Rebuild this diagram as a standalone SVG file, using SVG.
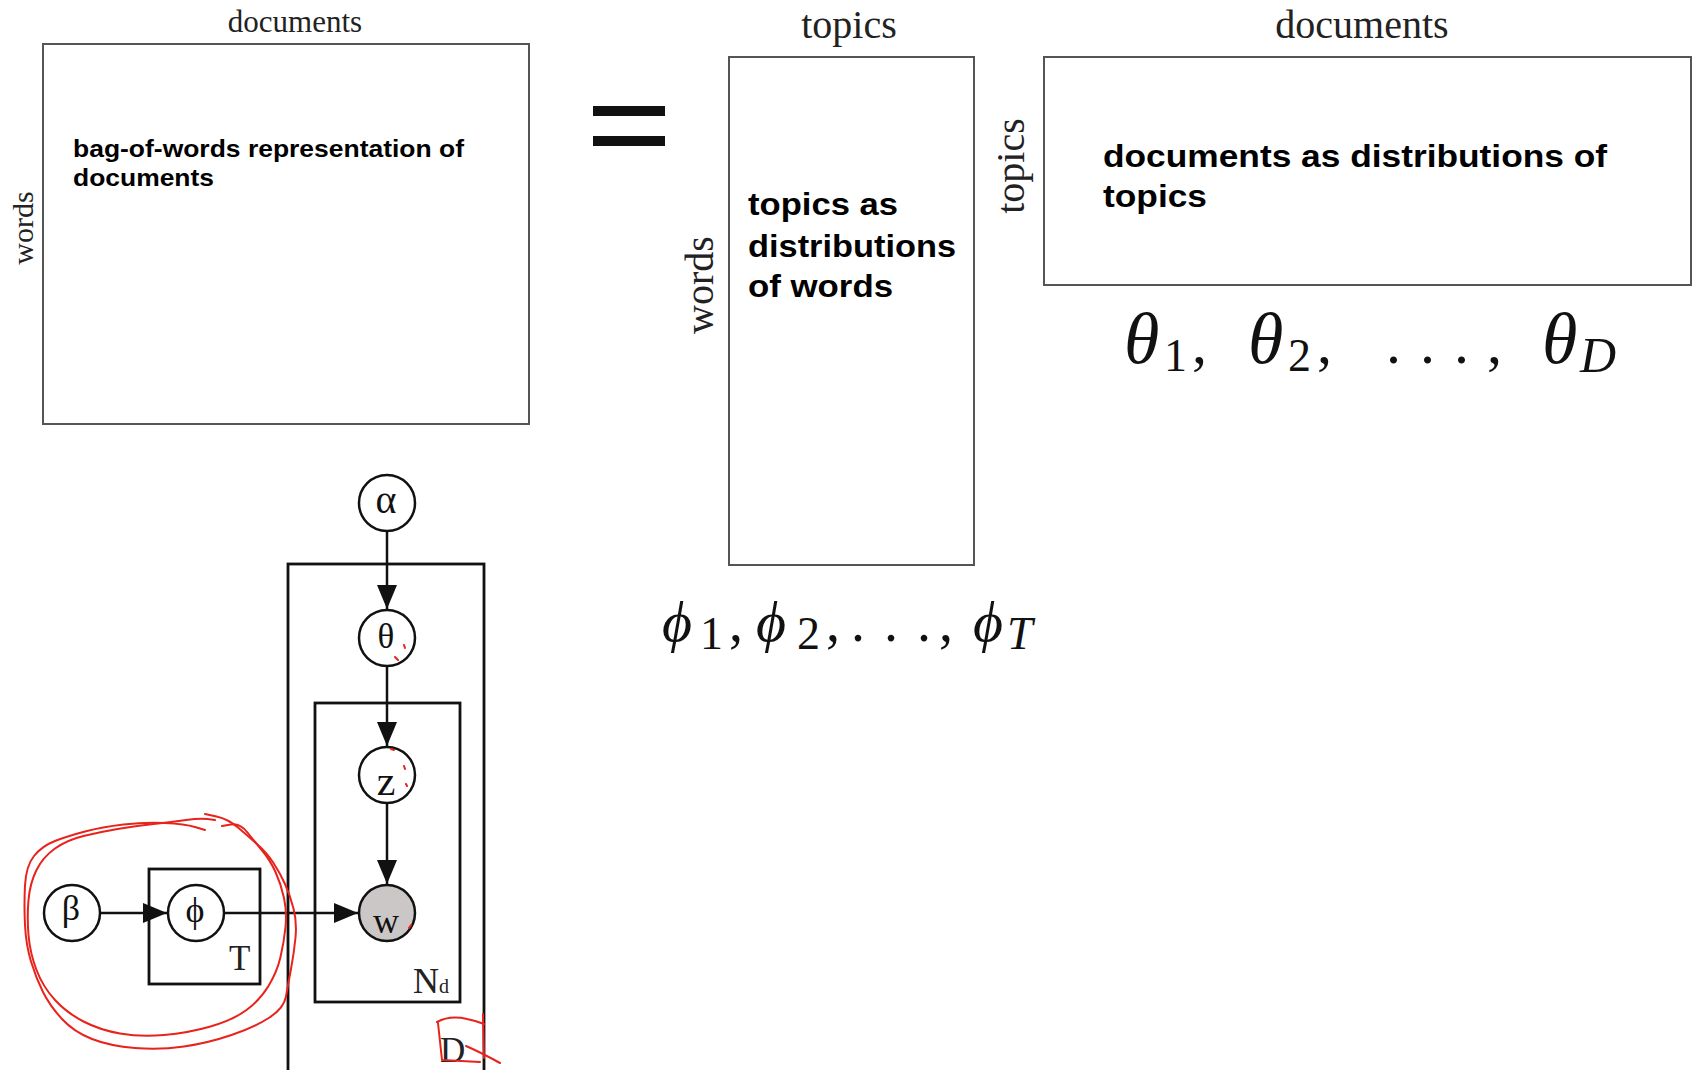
<svg xmlns="http://www.w3.org/2000/svg" width="1693" height="1070" viewBox="0 0 1693 1070">
<style>
.mat{fill:#fff;stroke:#555;stroke-width:2}
.lbl{font-family:"Liberation Serif","Times New Roman",serif;fill:#222}
.bold{font-family:"Liberation Sans",Arial,sans-serif;font-weight:bold;fill:#000}
.math{font-family:"Liberation Serif","DejaVu Serif",serif;fill:#111}
.it{font-style:italic}
.node{fill:#fff;stroke:#111;stroke-width:2.5}
.obs{fill:#cbc7c7;stroke:#111;stroke-width:2.5}
.plate{fill:none;stroke:#111;stroke-width:2.8}
.gl{font-family:"Liberation Serif","Times New Roman",serif;fill:#111;text-anchor:middle}
.edge{stroke:#111;stroke-width:2.5;fill:none;marker-end:url(#arr)}
.red{fill:none;stroke:#e8231c;stroke-width:2;stroke-linecap:round;stroke-linejoin:round}
</style>
<defs>
<marker id="arr" viewBox="0 0 24 20" refX="24" refY="10" markerWidth="24" markerHeight="20" markerUnits="userSpaceOnUse" orient="auto">
<path d="M0,0 L24,10 L0,20 z" fill="#111"/>
</marker>
</defs>
<rect width="1693" height="1070" fill="#fff"/>

<g id="bow-matrix">
<rect class="mat" x="43" y="44" width="486" height="380"/>
<text class="lbl" x="295" y="32" font-size="31" text-anchor="middle">documents</text>
<text class="lbl" font-size="30" text-anchor="middle" transform="translate(33,228) rotate(-90)">words</text>
<text class="bold" font-size="24" x="73" y="157" textLength="391" lengthAdjust="spacingAndGlyphs">bag-of-words representation of</text>
<text class="bold" font-size="24" x="73" y="186" textLength="141" lengthAdjust="spacingAndGlyphs">documents</text>
</g>

<g id="equals">
<rect x="593" y="106" width="72" height="10" fill="#111"/>
<rect x="593" y="136" width="72" height="10" fill="#111"/>
</g>

<g id="topic-word-matrix">
<rect class="mat" x="729" y="57" width="245" height="508"/>
<text class="lbl" x="849" y="38" font-size="40" text-anchor="middle">topics</text>
<text class="lbl" font-size="40" text-anchor="middle" transform="translate(713,285) rotate(-90)">words</text>
<text class="bold" font-size="32" x="748" y="215" textLength="150" lengthAdjust="spacingAndGlyphs">topics as</text>
<text class="bold" font-size="32" x="748" y="257" textLength="208" lengthAdjust="spacingAndGlyphs">distributions</text>
<text class="bold" font-size="32" x="748" y="297" textLength="145" lengthAdjust="spacingAndGlyphs">of words</text>
</g>

<g id="doc-topic-matrix">
<rect class="mat" x="1044" y="57" width="647" height="228"/>
<text class="lbl" x="1362" y="38" font-size="40" text-anchor="middle">documents</text>
<text class="lbl" font-size="40" text-anchor="middle" transform="translate(1024,166) rotate(-90)">topics</text>
<text class="bold" font-size="32" x="1103" y="167" textLength="504" lengthAdjust="spacingAndGlyphs">documents as distributions of</text>
<text class="bold" font-size="32" x="1103" y="207" textLength="104" lengthAdjust="spacingAndGlyphs">topics</text>
</g>

<g id="theta-formula" class="math">
<text class="it" x="1124" y="363" font-size="72">θ</text>
<text x="1164" y="371" font-size="46">1</text>
<text x="1192" y="363" font-size="60">,</text>
<text class="it" x="1248" y="363" font-size="72">θ</text>
<text x="1288" y="371" font-size="46">2</text>
<text x="1317" y="363" font-size="60">,</text>
<text x="1386" y="363" font-size="60">.</text>
<text x="1420" y="363" font-size="60">.</text>
<text x="1454" y="363" font-size="60">.</text>
<text x="1487" y="363" font-size="60">,</text>
<text class="it" x="1542" y="363" font-size="72">θ</text>
<text class="it" x="1580" y="372" font-size="50">D</text>
</g>

<g id="phi-formula" class="math">
<text class="it" x="662" y="641" font-size="58">ϕ</text>
<text x="700" y="649" font-size="46">1</text>
<text x="729" y="641" font-size="56">,</text>
<text class="it" x="756" y="641" font-size="58">ϕ</text>
<text x="797" y="649" font-size="46">2</text>
<text x="826" y="641" font-size="56">,</text>
<text x="851" y="641" font-size="56">.</text>
<text x="884" y="641" font-size="56">.</text>
<text x="917" y="641" font-size="56">.</text>
<text x="939" y="641" font-size="56">,</text>
<text class="it" x="973" y="641" font-size="58">ϕ</text>
<text class="it" x="1007" y="649" font-size="46">T</text>
</g>

<g id="plate-D">
<rect class="plate" x="288" y="564" width="196" height="520"/>
<text class="lbl" x="440" y="1062" font-size="35">D</text>
</g>
<g id="plate-Nd">
<rect class="plate" x="315" y="703" width="145" height="299"/>
<text class="lbl" x="413" y="993" font-size="36">N<tspan font-size="20" dy="0">d</tspan></text>
</g>
<g id="plate-T">
<rect class="plate" x="149" y="869" width="111" height="115"/>
<text class="lbl" x="229" y="970" font-size="35">T</text>
</g>

<g id="node-alpha">
<circle class="node" cx="387" cy="503" r="28"/>
<text class="gl" x="386" y="513" font-size="40">α</text>
</g>
<g id="node-theta">
<circle class="node" cx="387" cy="638" r="28"/>
<text class="gl" x="386" y="648" font-size="35">θ</text>
</g>
<g id="node-z">
<circle class="node" cx="387" cy="775" r="28"/>
<text class="gl" x="386" y="795" font-size="42">z</text>
</g>
<g id="node-w">
<circle class="obs" cx="387" cy="913" r="28"/>
<text class="gl" x="386" y="933" font-size="36">w</text>
</g>
<g id="node-beta">
<circle class="node" cx="72" cy="913" r="28"/>
<text class="gl" x="71" y="920" font-size="36">β</text>
</g>
<g id="node-phi">
<circle class="node" cx="196" cy="913" r="28"/>
<text class="gl" x="195" y="922" font-size="36">ϕ</text>
</g>

<g id="connectors">
<line class="edge" x1="387" y1="531" x2="387" y2="609"/>
<line class="edge" x1="387" y1="666" x2="387" y2="746"/>
<line class="edge" x1="387" y1="803" x2="387" y2="884"/>
<line class="edge" x1="100" y1="913" x2="167" y2="913"/>
<line class="edge" x1="224" y1="913" x2="358" y2="913"/>
</g>

<g id="red-annotations">
<path class="red" d="M222,826 L231,824.5 Q240,823 247.5,832.5 Q255,842 262.5,851 Q270,860 275.5,872 Q281,884 284,898 Q287,912 285.5,927 Q284,942 280.5,957 Q277,972 268.5,986 Q260,1000 246.5,1010 Q233,1020 210.5,1026.5 Q188,1033 164,1035 Q140,1037 120,1033.5 Q100,1030 83.5,1021.5 Q67,1013 55,1000 Q43,987 36.5,970 Q30,953 28.5,935 Q27,917 28.5,900 Q30,883 36.5,870 Q43,857 55,848.5 Q67,840 83.5,836 Q100,832 117.5,829 Q135,826 153.5,824 Q172,822 186,820 Q200,818 207.5,819 L215,820"/>
<path class="red" d="M205,814 L216.5,816.5 Q228,819 238,827.5 Q248,836 257.5,844.5 Q267,853 273.5,863 Q280,873 285,884 Q290,895 293.5,908.5 Q297,922 295.5,937.5 Q294,953 291,969 Q288,985 286,996.5 Q284,1008 269.5,1017.5 Q255,1027 231.5,1035 Q208,1043 184,1046.5 Q160,1050 135,1048 Q110,1046 92,1039 Q74,1032 62,1019 Q50,1006 43,992 Q36,978 31,961.5 Q26,945 25,925 Q24,905 25,885.5 Q26,866 34,856 Q42,846 55,841 Q68,836 85,831.5 Q102,827 123.5,824.5 Q145,822 165,823 Q185,824 195,827 L205,830"/>
<path class="red" d="M437,1022 Q450,1015 467,1019 Q477,1021 484,1024 M438,1023 Q440,1042 442,1060 L480,1062 M483,1014 L484,1058"/>
<path class="red" stroke-width="5" d="M466,1046 Q480,1052 500,1063"/>
<path class="red" stroke-width="2.5" d="M404,645 l1,3 M395,657 l3,3 M391,749 l3,1 M404,766 l1,3 M406,784 l1,2 M411,925 l-2,3"/>
</g>
</svg>
